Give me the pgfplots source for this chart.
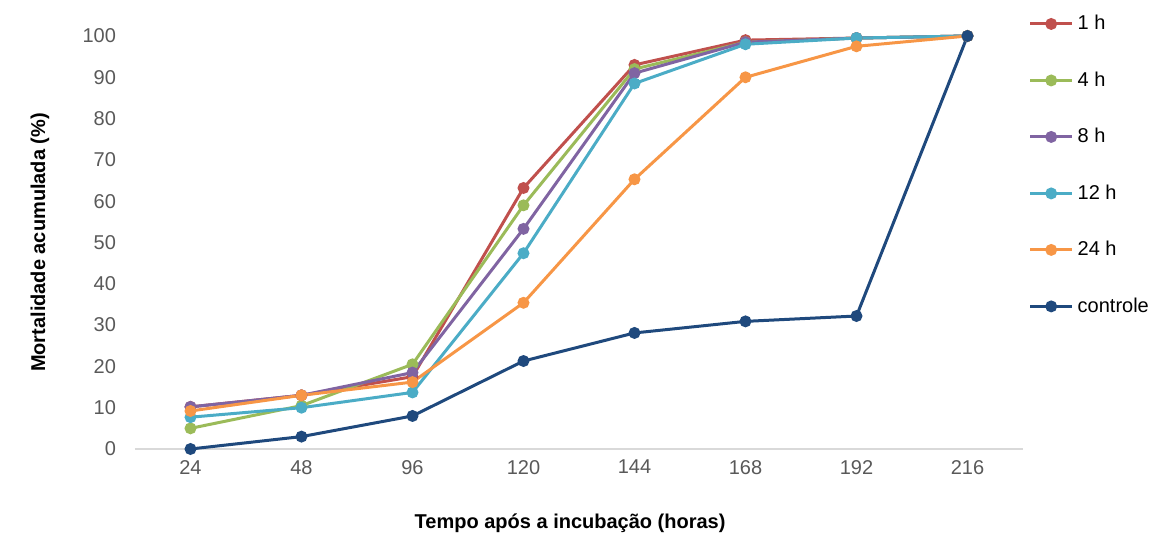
\documentclass[border=0pt]{standalone}
\usepackage{fontspec}
\setmainfont{Liberation Sans}
\usepackage{pgfplots}
\pgfplotsset{compat=1.18}

\definecolor{c1}{HTML}{C0504D}
\definecolor{c4}{HTML}{9BBB59}
\definecolor{c8}{HTML}{8064A2}
\definecolor{c12}{HTML}{4BACC6}
\definecolor{c24}{HTML}{F79646}
\definecolor{cctl}{HTML}{1F497D}
\definecolor{ticktxt}{HTML}{595959}

\begin{document}
\begin{tikzpicture}
\begin{axis}[
    scale only axis,
    width=444pt, height=206.5pt,
    xmin=-0.5, xmax=7.5,
    ymin=0, ymax=100,
    xtick={0,...,7},
    xticklabels={24,48,96,120,144,168,192,216},
    ytick={0,10,...,100},
    axis x line*=bottom,
    axis y line*=left,
    x axis line style={draw=black!15, line width=0.8pt},
    y axis line style={draw=none},
    major tick length=0pt,
    tick label style={font=\fontsize{10}{12}\selectfont, text=ticktxt},
    /pgf/number format/assume math mode=true,
    xticklabel style={yshift=-2pt},
    yticklabel style={xshift=-6pt},
    xlabel={\textbf{Tempo após a incubação (horas)}},
    ylabel={\textbf{Mortalidade acumulada (\%)}},
    label style={font=\fontsize{10}{12}\selectfont},
    x label style={at={(axis description cs:0.49,-0.179)}, anchor=center},
    y label style={at={(axis description cs:-0.107,0.5)}, anchor=center},
    clip=false,
    every axis plot/.append style={line width=1.5pt, mark=*, mark size=2.2pt},
    legend style={draw=none, fill=none, at={(axis description cs:1.006,1.061)}, anchor=north west,
        font=\fontsize{10}{12}\selectfont, row sep=15.5pt, inner sep=0pt},
    legend cell align=left,
    legend image code/.code={
        \draw[mark repeat=2,mark phase=2] plot coordinates {(0pt,0pt) (10.5pt,0pt) (21pt,0pt)};
    },
    /tikz/every even column/.append style={column sep=1pt},
]
\addplot[color=c1] coordinates {(0,10.2) (1,13) (2,17.5) (3,63.2) (4,93) (5,99) (6,99.5) (7,100)};
\addplot[color=c4] coordinates {(0,5) (1,10.5) (2,20.5) (3,59) (4,92) (5,98.5) (6,99.5) (7,100)};
\addplot[color=c8] coordinates {(0,10.2) (1,13) (2,18.5) (3,53.3) (4,91) (5,98.5) (6,99.5) (7,100)};
\addplot[color=c12] coordinates {(0,7.7) (1,10) (2,13.7) (3,47.4) (4,88.5) (5,98) (6,99.5) (7,100)};
\addplot[color=c24] coordinates {(0,9.2) (1,13) (2,16.2) (3,35.4) (4,65.3) (5,90) (6,97.5) (7,100)};
\addplot[color=cctl] coordinates {(0,0) (1,3) (2,8) (3,21.3) (4,28.1) (5,30.9) (6,32.2) (7,100)};
\legend{1 h, 4 h, 8 h, 12 h, 24 h, controle}
\end{axis}
\path (current axis.south west) ++(-67.5pt,-45.5pt) rectangle ++(579pt,270pt);
\end{tikzpicture}
\end{document}
